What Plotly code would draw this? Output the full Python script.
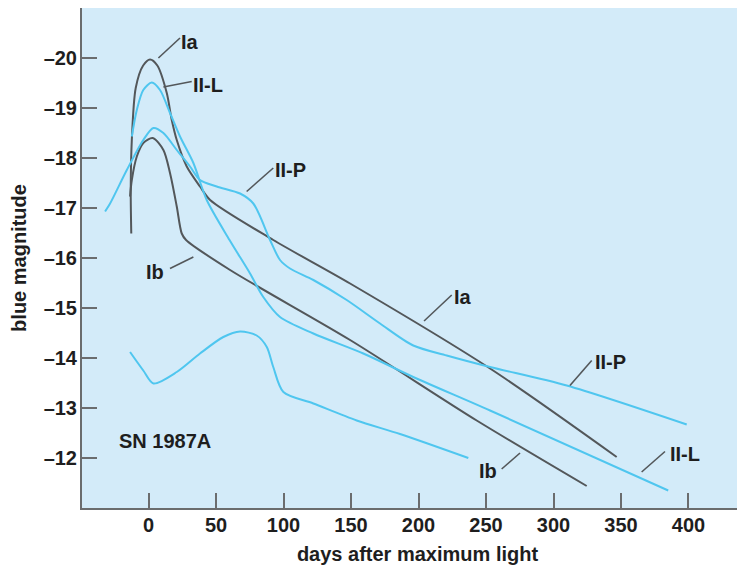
import plotly.graph_objects as go

# ---- data (days after maximum light, blue magnitude) ----
ia_days = [-12.8, -13.2, -12.4, -9.5, -4.0, 1.1, 6.5, 13.5, 17.2, 20.9, 28.3, 38.1, 45.6, 92.4, 149.3, 253.0, 346.8]
ia_mag = [-16.49, -17.36, -18.36, -19.40, -19.85, -19.97, -19.85, -19.30, -18.76, -18.36, -17.83, -17.43, -17.16, -16.36, -15.49, -13.79, -12.02]

ib_days = [-13.7, -12.4, -8.7, -3.9, 3.1, 11.0, 15.9, 20.9, 24.6, 27.8, 60.4, 149.3, 243.1, 324.6]
ib_mag = [-17.23, -17.56, -18.03, -18.30, -18.40, -18.16, -17.70, -17.03, -16.49, -16.36, -15.76, -14.36, -12.75, -11.44]

iil_days = [-12.4, -8.7, -3.9, 2.4, 8.5, 15.9, 23.3, 33.2, 43.1, 60.0, 75.2, 85.0, 97.4, 122.1, 159.1, 196.1, 253.0, 385.0]
iil_mag = [-18.43, -18.96, -19.36, -19.51, -19.36, -18.90, -18.43, -17.90, -17.16, -16.36, -15.69, -15.22, -14.82, -14.49, -14.09, -13.62, -12.95, -11.35]

iip_days = [-32.2, -28.5, -16.1, -3.9, 3.6, 11.0, 20.9, 30.7, 38.1, 50.5, 67.8, 77.6, 90.0, 97.4, 104.8, 122.1, 146.8, 171.5, 196.1, 220.9, 253.0, 309.8, 398.7]
iip_mag = [-16.93, -17.09, -17.76, -18.36, -18.60, -18.50, -18.16, -17.83, -17.56, -17.43, -17.29, -17.09, -16.36, -15.96, -15.79, -15.56, -15.16, -14.69, -14.25, -14.05, -13.82, -13.45, -12.67]

sn87_days = [-13.7, -3.9, 3.6, 20.9, 38.1, 55.4, 67.8, 80.1, 87.6, 92.4, 99.9, 122.1, 154.2, 186.3, 236.9]
sn87_mag = [-14.12, -13.75, -13.49, -13.72, -14.09, -14.42, -14.53, -14.45, -14.22, -13.82, -13.32, -13.09, -12.75, -12.48, -12.00]

x_ticks = [0, 50, 100, 150, 200, 250, 300, 350, 400]
y_ticks = [-20, -19, -18, -17, -16, -15, -14, -13, -12]
y_ticktext = ["\u201320", "\u201319", "\u201318", "\u201317", "\u201316", "\u201315", "\u201314", "\u201313", "\u201312"]

# label text: (text, x, y) and leader lines (x0, y0, x1, y1)
label_text = [("Ia", 30.7, -20.33), ("II-L", 44.3, -19.46), ("II-P", 104.8, -17.76),
              ("Ib", 4.8, -15.72), ("Ia", 233.2, -15.22), ("II-P", 341.9, -13.92),
              ("Ib", 251.7, -11.75), ("II-L", 397.4, -12.08)]
leaders = [(7.3, -20.0, 23.3, -20.4), (11.0, -19.42, 32.0, -19.53), (72.7, -17.33, 92.4, -17.80),
           (15.9, -15.79, 33.2, -16.02), (204.1, -14.74, 224.6, -15.26), (312.2, -13.45, 328.3, -13.95),
           (261.6, -11.78, 275.2, -12.10), (365.3, -11.72, 382.6, -12.13)]

DARK = "#53575a"
CYAN = "#4fc6ef"
BG = "#d3ebf9"
AX = "#6a6c6e"
FONT = "Liberation Sans, Arial, sans-serif"
FS = 20

fig = go.Figure()
series = [(ia_days, ia_mag, DARK), (ib_days, ib_mag, DARK), (iil_days, iil_mag, CYAN),
          (iip_days, iip_mag, CYAN), (sn87_days, sn87_mag, CYAN)]
for xs, ys, c in series:
    fig.add_trace(go.Scatter(x=xs, y=ys, mode="lines",
                             line=dict(color=c, width=2, shape="spline", smoothing=0.8),
                             hoverinfo="skip", showlegend=False))

for x0, y0, x1, y1 in leaders:
    fig.add_shape(type="line", x0=x0, y0=y0, x1=x1, y1=y1, xref="x", yref="y",
                  line=dict(color=DARK, width=1.6))

for t, x, y in label_text:
    fig.add_annotation(x=x, y=y, text="<b>%s</b>" % t, showarrow=False, xref="x", yref="y",
                       font=dict(family=FONT, size=FS, color="#1e1e1e"))

fig.add_annotation(x=-23.6, y=-12.35, text="<b>SN 1987A</b>", showarrow=False, xanchor="left",
                   xref="x", yref="y", font=dict(family=FONT, size=FS, color="#1e1e1e"))

# the page body adds an 8px offset; margins compensate for it
fig.update_layout(
    width=745, height=565,
    margin=dict(l=74, r=0, t=0, b=65, autoexpand=False),
    paper_bgcolor="white", plot_bgcolor=BG,
    font=dict(family=FONT, size=FS, color="#1e1e1e"),
    xaxis=dict(range=[-49.3, 447.8], tickvals=x_ticks, ticktext=["<b>%d</b>" % v for v in x_ticks],
               ticks="inside", ticklen=15, tickwidth=1.5,
               tickcolor=AX, showline=True, linecolor=AX, linewidth=2, mirror=True,
               showgrid=False, zeroline=False, tickfont=dict(size=FS), automargin=False,
               title=dict(text="<b>days after maximum light</b>", font=dict(size=FS), standoff=12),
               ticklabelstandoff=-2),
    yaxis=dict(range=[-11, -21], tickvals=y_ticks, ticktext=["<b>%s</b>" % t for t in y_ticktext],
               ticks="inside", ticklen=15, tickwidth=1.5, tickcolor=AX, showline=True,
               linecolor=AX, linewidth=2, showgrid=False, zeroline=False, tickfont=dict(size=FS),
               automargin=False,
               title=dict(text="<b>blue magnitude</b>", font=dict(size=FS), standoff=15),
               ticklabelstandoff=-1),
)

fig.write_html("out.html")
